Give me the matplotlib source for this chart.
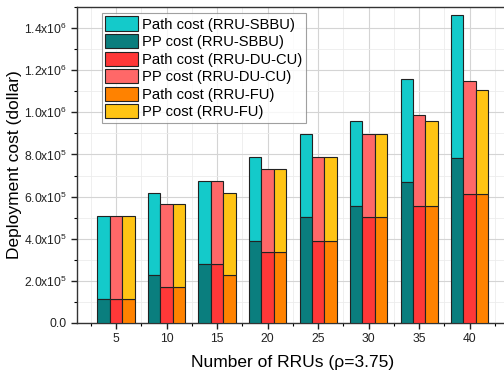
import matplotlib
matplotlib.use("Agg")
import matplotlib.pyplot as plt
import numpy as np
from matplotlib.ticker import FixedLocator, FuncFormatter, MultipleLocator

plt.rcParams['font.family'] = ['Liberation Sans', 'DejaVu Sans']
plt.rcParams['mathtext.fontset'] = 'custom'
plt.rcParams['mathtext.rm'] = 'Liberation Sans'
plt.rcParams['mathtext.default'] = 'regular'

categories = ['5', '10', '15', '20', '25', '30', '35', '40']
sbbu_bottom = [1.12e5, 2.26e5, 2.79e5, 3.91e5, 5.04e5, 5.57e5, 6.70e5, 7.82e5]
sbbu_total = [5.08e5, 6.19e5, 6.75e5, 7.89e5, 8.98e5, 9.61e5, 11.59e5, 14.63e5]
ducu_bottom = [1.12e5, 1.69e5, 2.79e5, 3.36e5, 3.91e5, 5.04e5, 5.57e5, 6.13e5]
ducu_total = [5.08e5, 5.64e5, 6.75e5, 7.30e5, 7.87e5, 8.98e5, 9.87e5, 11.50e5]
fu_bottom = [1.12e5, 1.69e5, 2.26e5, 3.36e5, 3.91e5, 5.04e5, 5.57e5, 6.13e5]
fu_total = [5.08e5, 5.64e5, 6.19e5, 7.30e5, 7.87e5, 8.98e5, 9.61e5, 11.07e5]

c_cyan = '#14CACA'
c_teal = '#0A7E7E'
c_red = '#FF3838'
c_salmon = '#FF6868'
c_orange = '#FF8200'
c_gold = '#FFC414'

fig = plt.figure(figsize=(5.04, 3.75), dpi=100)
ax = fig.add_axes([0.153, 0.139, 0.854, 0.842])

x = np.arange(1, len(categories) + 1)
w = 0.245
ek = dict(edgecolor='#222222', linewidth=0.8, zorder=3)

sb = np.array(sbbu_bottom); st = np.array(sbbu_total)
db = np.array(ducu_bottom); dt = np.array(ducu_total)
fb = np.array(fu_bottom); ft = np.array(fu_total)

h_path_sbbu = ax.bar(x - w, st - sb, w, bottom=sb, color=c_cyan, **ek)
h_pp_sbbu = ax.bar(x - w, sb, w, color=c_teal, **ek)
h_path_ducu = ax.bar(x, db, w, color=c_red, **ek)
h_pp_ducu = ax.bar(x, dt - db, w, bottom=db, color=c_salmon, **ek)
h_path_fu = ax.bar(x + w, fb, w, color=c_orange, **ek)
h_pp_fu = ax.bar(x + w, ft - fb, w, bottom=fb, color=c_gold, **ek)

ax.set_xlim(0.23, 8.75)
ax.set_ylim(0, 1.5e6)
ax.set_xticks(x)
ax.set_xticklabels(categories)
ax.xaxis.set_minor_locator(FixedLocator(np.arange(0.5, 9.0, 1.0)))
ax.yaxis.set_major_locator(MultipleLocator(2e5))
ax.yaxis.set_minor_locator(MultipleLocator(1e5))

def fmt(v, pos):
    if v == 0:
        return '0.0'
    e = int(np.floor(np.log10(abs(v))))
    m = v / 10 ** e
    return r'%.1fx10$^{%d}$' % (m, e)

ax.yaxis.set_major_formatter(FuncFormatter(fmt))
ax.tick_params(axis='both', which='major', direction='out', length=4, width=1, labelsize=8.7, colors='#222222')
ax.tick_params(axis='both', which='minor', direction='out', length=2.5, width=0.8)
ax.grid(True, which='major', color='#d4d4d4', linewidth=0.8, zorder=0)
ax.grid(True, which='minor', color='#ececec', linewidth=0.6, zorder=0)
ax.set_axisbelow(True)
for s in ax.spines.values():
    s.set_color('#333333')
    s.set_linewidth(1.0)

ax.set_xlabel('Number of RRUs (\u03c1=3.75)', fontsize=12.5, labelpad=7)
ax.set_ylabel('Deployment cost (dollar)', fontsize=12.5, labelpad=1)

handles = [h_path_sbbu, h_pp_sbbu, h_path_ducu, h_pp_ducu, h_path_fu, h_pp_fu]
labels = ['Path cost (RRU-SBBU)', 'PP cost (RRU-SBBU)', 'Path cost (RRU-DU-CU)',
          'PP cost (RRU-DU-CU)', 'Path cost (RRU-FU)', 'PP cost (RRU-FU)']
leg = ax.legend(handles, labels, loc='upper left', bbox_to_anchor=(0.057, 0.982),
                fontsize=10.6, frameon=True, fancybox=False, edgecolor='#888888',
                handlelength=2.2, handleheight=1.1, labelspacing=0.17,
                borderpad=0.25, handletextpad=0.3, borderaxespad=0.0)
leg.get_frame().set_linewidth(0.8)
leg.set_zorder(5)

fig.savefig('out.png', dpi=100)
